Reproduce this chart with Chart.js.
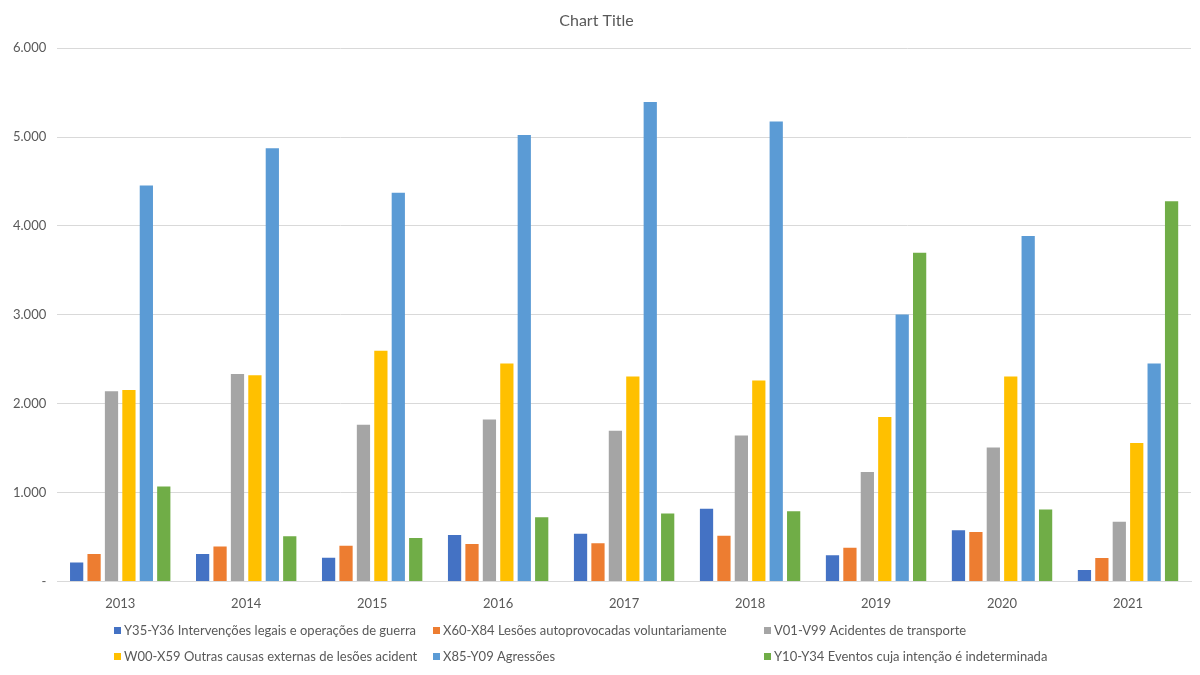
<!DOCTYPE html>
<html lang="pt-BR">
<head>
    <meta charset="UTF-8">
    <title>Chart Title</title>
    <script src="https://cdn.jsdelivr.net/npm/chart.js"></script>
    <style>
        html, body { margin: 0; padding: 0; background: #fff; }
        .chart-container { width: 1200px; height: 675px; position: relative; }
    </style>
</head>
<body>
    <div class="chart-container">
        <canvas id="causasChart" width="1200" height="675"></canvas>
    </div>

    <script>
        // dados
        const anos = ['2013', '2014', '2015', '2016', '2017', '2018', '2019', '2020', '2021'];

        const intervencoesLegais = [213, 307, 266, 523, 535, 817, 294, 576, 127];
        const lesoesAutoprovocadas = [307, 393, 401, 421, 429, 515, 380, 556, 262];
        const acidentesTransporte = [2141, 2333, 1764, 1823, 1696, 1643, 1230, 1508, 670];
        const outrasCausas = [2153, 2321, 2595, 2452, 2305, 2260, 1851, 2305, 1557];
        const agressoes = [4454, 4875, 4372, 5022, 5394, 5174, 3004, 3886, 2452];
        const eventosIndeterminados = [1068, 508, 487, 723, 764, 789, 3698, 809, 4279];

        const nomesSeries = [
            'Y35-Y36 Intervenções legais e operações de guerra',
            'X60-X84 Lesões autoprovocadas voluntariamente',
            'V01-V99 Acidentes de transporte',
            'W00-X59 Outras causas externas de lesões acident',
            'X85-Y09 Agressões',
            'Y10-Y34 Eventos cuja intenção é indeterminada'
        ];
        const cores = ['#4472C4', '#ED7D31', '#A5A5A5', '#FFC000', '#5B9BD5', '#70AD47'];
        const valores = [intervencoesLegais, lesoesAutoprovocadas, acidentesTransporte,
                         outrasCausas, agressoes, eventosIndeterminados];

        const fonte = 'Lato, "Open Sans", sans-serif';
        const cinzaTexto = '#595959';

        function formatarMilhar(v) {
            if (v === 0) return '-';
            return String(v).replace(/\B(?=(\d{3})+(?!\d))/g, '.');
        }

        // legenda em grade (3 colunas x 2 linhas), como no Excel
        const legendaGrade = {
            id: 'legendaGrade',
            afterDraw(chart) {
                const ctx = chart.ctx;
                const colunas = [114, 433, 764];
                const linhas = [631, 657];
                ctx.save();
                ctx.font = '13px ' + fonte;
                ctx.textBaseline = 'middle';
                ctx.textAlign = 'left';
                chart.data.datasets.forEach((ds, i) => {
                    const x = colunas[i % 3];
                    const y = linhas[Math.floor(i / 3)];
                    ctx.fillStyle = ds.backgroundColor;
                    ctx.fillRect(x, y - 4, 7, 7);
                    ctx.fillStyle = cinzaTexto;
                    ctx.fillText(ds.label, x + 10, y);
                });
                ctx.restore();
            }
        };

        const datasets = nomesSeries.map((nome, i) => ({
            label: nome,
            data: valores[i],
            backgroundColor: cores[i],
            categoryPercentage: 0.83,
            barPercentage: 0.76
        }));

        new Chart(document.getElementById('causasChart'), {
            type: 'bar',
            data: { labels: anos, datasets: datasets },
            options: {
                responsive: false,
                animation: false,
                layout: { padding: { left: 2, right: 9, top: 3, bottom: 48 } },
                plugins: {
                    legend: { display: false },
                    tooltip: { enabled: false },
                    title: {
                        display: true,
                        text: 'Chart Title',
                        color: cinzaTexto,
                        font: { family: fonte, size: 16, weight: 'normal' },
                        padding: { top: 8, bottom: 18 }
                    }
                },
                scales: {
                    x: {
                        grid: { display: false, drawTicks: false },
                        border: { display: true, color: '#d9d9d9' },
                        ticks: {
                            color: cinzaTexto,
                            font: { family: fonte, size: 13 },
                            padding: 15
                        }
                    },
                    y: {
                        min: 0,
                        max: 6000,
                        grid: { color: '#d9d9d9', drawTicks: false },
                        border: { display: false },
                        ticks: {
                            stepSize: 1000,
                            color: cinzaTexto,
                            font: { family: fonte, size: 13 },
                            padding: 11,
                            callback: (v) => formatarMilhar(v)
                        }
                    }
                }
            },
            plugins: [legendaGrade]
        });
    </script>
</body>
</html>
